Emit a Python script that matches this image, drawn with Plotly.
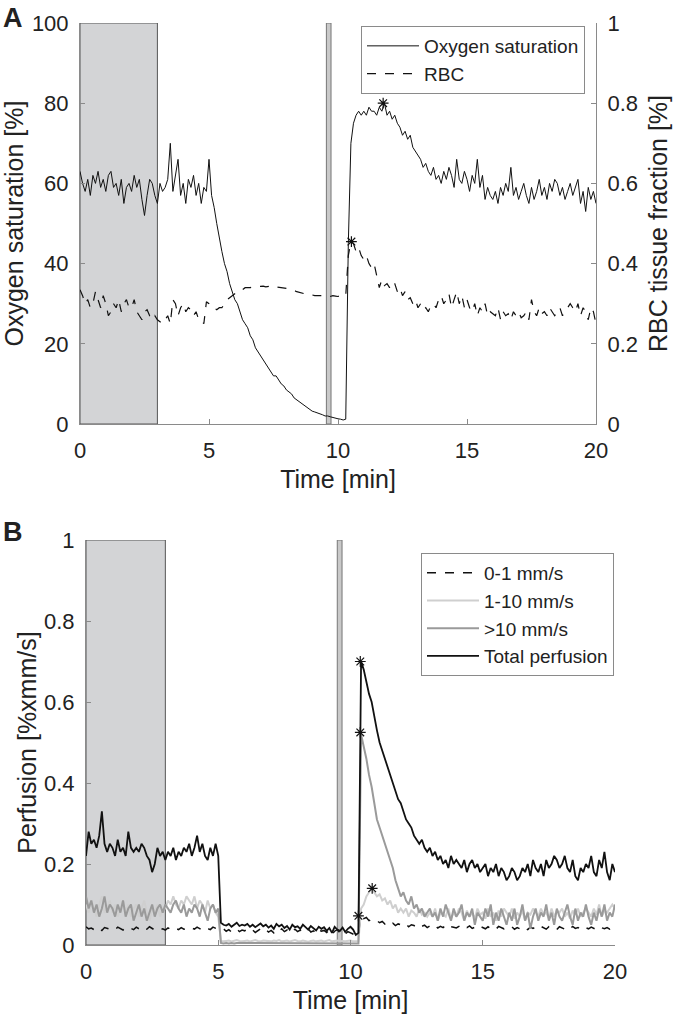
import numpy as np
import plotly.graph_objects as go

# ---------------- data ----------------
time_a = np.round(np.arange(0, 20.001, 0.1), 1)
time_b = np.round(np.arange(0, 20.001, 0.1), 1)

oxygen_rows = [
    [63, 60, 58, 61, 57, 62, 60, 63, 59, 61],
    [58, 62, 63, 59, 60, 57, 61, 55, 59, 60],
    [58, 62, 59, 61, 56, 52, 57, 61, 60, 57],
    [55, 60, 58, 59, 61, 70, 58, 62, 66, 57],
    [60, 55, 61, 59, 62, 57, 60, 55, 59, 58],
    [66, 57, 54, 50, 46, 43, 40, 38, 35, 33],
    [31, 30, 28, 26, 25, 24, 22, 21, 19, 18],
    [17, 16, 15, 14, 13, 12, 12, 11, 10, 9.5],
    [8.5, 8, 7.5, 6.5, 6, 5.5, 5, 4.5, 4, 3.5],
    [3.2, 3, 2.8, 2.5, 2.3, 2, 2, 1.8, 1.6, 1.5],
    [1.3, 1.2, 1.0, 1.2, 45, 70, 75, 77, 78, 77],
    [78, 77, 79, 78, 78, 77, 79, 78, 80, 77],
    [78, 76, 77, 75, 74, 72, 73, 71, 72, 69],
    [68, 67, 66, 64, 65, 63, 62, 64, 61, 62],
    [60, 63, 61, 64, 62, 59, 66, 61, 60, 63],
    [61, 58, 62, 60, 66, 59, 62, 56, 59, 57],
    [56, 58, 55, 59, 57, 60, 58, 64, 57, 59],
    [56, 58, 60, 57, 55, 59, 56, 58, 61, 57],
    [59, 56, 60, 58, 61, 60, 57, 59, 56, 58],
    [60, 57, 59, 61, 55, 58, 53, 59, 56, 58],
    [55],
]
rbc_rows = [
    [.335, .32, .30, .31, .29, .30, .33, .31, .29, .32],
    [.30, .27, .28, .30, .29, .31, .28, .30, .31, .29],
    [.29, .31, .28, .27, .26, .28, .285, .27, .26, .27],
    [.26, .255, .25, .26, .27, .25, .31, .30, .27, .29],
    [.30, .28, .29, .285, .27, .28, .26, .26, .25, .305],
    [.30, .29, .29, .285, .29, .29, .30, .31, .315, .32],
    [.325, .33, .335, .335, .34, .34, .34, .342, .343, .343],
    [.343, .344, .342, .343, .344, .345, .342, .341, .34, .34],
    [.338, .336, .335, .333, .33, .328, .326, .324, .323, .322],
    [.322, .32, .32, .321, .32, .319, .32, .318, .32, .319],
    [.318, .32, .318, .32, .42, .455, .45, .43, .44, .42],
    [.41, .42, .40, .39, .40, .37, .34, .36, .345, .35],
    [.34, .355, .35, .33, .34, .32, .33, .31, .315, .30],
    [.31, .29, .30, .285, .29, .28, .295, .30, .29, .31],
    [.32, .30, .31, .325, .29, .31, .33, .30, .32, .29],
    [.31, .29, .28, .30, .27, .29, .28, .30, .27, .28],
    [.275, .27, .29, .26, .28, .27, .275, .26, .28, .27],
    [.28, .265, .27, .28, .26, .31, .28, .27, .29, .275],
    [.28, .27, .29, .28, .27, .28, .29, .27, .28, .29],
    [.30, .29, .28, .30, .27, .29, .28, .26, .29, .28],
    [.25],
]
total_rows = [
    [.22, .28, .25, .26, .24, .27, .33, .25, .23, .25],
    [.24, .22, .26, .23, .24, .22, .28, .24, .23, .24],
    [.23, .25, .24, .22, .21, .18, .20, .24, .22, .23],
    [.21, .23, .22, .24, .21, .23, .22, .24, .23, .25],
    [.22, .24, .27, .23, .25, .22, .21, .24, .22, .25],
    [.22, .055, .05, .048, .052, .045, .05, .055, .047, .05],
    [.048, .052, .045, .05, .044, .049, .053, .046, .05, .043],
    [.048, .04, .052, .046, .05, .042, .047, .038, .05, .044],
    [.046, .04, .05, .044, .038, .047, .042, .036, .045, .04],
    [.044, .035, .042, .03, .045, .038, .035, .043, .032, .04],
    [.045, .038, .025, .03, .70, .68, .65, .62, .60, .56],
    [.53, .50, .48, .46, .44, .42, .40, .38, .36, .35],
    [.33, .31, .30, .29, .27, .26, .25, .26, .24, .23],
    [.24, .22, .23, .21, .22, .20, .21, .19, .22, .20],
    [.21, .20, .19, .21, .18, .20, .21, .19, .20, .18],
    [.19, .20, .17, .19, .18, .20, .17, .19, .18, .16],
    [.17, .19, .18, .16, .17, .19, .18, .20, .17, .21],
    [.19, .18, .20, .17, .21, .19, .20, .22, .21, .19],
    [.20, .22, .19, .18, .21, .17, .16, .19, .18, .20],
    [.19, .22, .18, .17, .21, .19, .23, .18, .16, .20],
    [.18],
]
fast_rows = [  # >10 mm/s
    [.12, .09, .11, .08, .10, .07, .09, .12, .08, .10],
    [.09, .07, .10, .08, .11, .07, .09, .10, .06, .08],
    [.10, .07, .09, .06, .08, .10, .07, .09, .10, .08],
    [.10, .09, .08, .10, .11, .09, .08, .10, .07, .09],
    [.08, .10, .09, .07, .10, .08, .06, .09, .10, .08],
    [.09, .005, .004, .005, .004, .005, .004, .005, .005, .004],
    [.005, .004, .005, .004, .005, .005, .004, .005, .004, .005],
    [.004, .005, .005, .004, .005, .004, .005, .004, .005, .005],
    [.004, .005, .004, .005, .005, .004, .005, .004, .005, .004],
    [.005, .004, .005, .004, .005, .005, .004, .005, .004, .005],
    [.004, .005, .005, .004, .52, .49, .46, .42, .39, .35],
    [.31, .29, .27, .25, .23, .21, .19, .16, .14, .12],
    [.13, .11, .10, .12, .09, .10, .08, .09, .07, .08],
    [.09, .07, .08, .06, .09, .07, .10, .08, .06, .09],
    [.07, .08, .10, .06, .08, .07, .09, .05, .08, .07],
    [.06, .09, .07, .10, .05, .08, .06, .09, .07, .05],
    [.08, .06, .09, .05, .07, .10, .06, .08, .04, .07],
    [.09, .06, .08, .07, .10, .06, .08, .05, .09, .07],
    [.06, .08, .10, .07, .05, .09, .06, .08, .07, .10],
    [.07, .05, .08, .06, .09, .07, .10, .06, .08, .07],
    [.10],
]
mid_rows = [  # 1-10 mm/s
    [.10, .08, .11, .09, .07, .10, .12, .08, .09, .11],
    [.08, .10, .07, .09, .11, .08, .10, .07, .09, .10],
    [.07, .09, .11, .08, .06, .09, .08, .10, .07, .09],
    [.09, .11, .10, .12, .10, .09, .11, .10, .12, .11],
    [.10, .12, .09, .11, .10, .08, .11, .09, .10, .08],
    [.07, .01, .009, .01, .011, .009, .01, .012, .01, .009],
    [.01, .011, .009, .01, .012, .01, .009, .011, .01, .01],
    [.009, .011, .01, .012, .009, .01, .011, .009, .01, .012],
    [.01, .009, .011, .01, .008, .01, .011, .009, .01, .011],
    [.009, .01, .012, .009, .01, .011, .009, .01, .009, .01],
    [.011, .009, .01, .01, .09, .10, .12, .13, .14, .13],
    [.12, .125, .11, .115, .10, .11, .09, .10, .08, .09],
    [.08, .09, .07, .085, .08, .07, .09, .075, .08, .07],
    [.08, .07, .09, .06, .08, .075, .07, .09, .065, .08],
    [.07, .09, .08, .06, .085, .07, .08, .065, .09, .075],
    [.08, .065, .09, .07, .08, .06, .085, .07, .09, .08],
    [.07, .09, .065, .08, .07, .085, .06, .08, .075, .09],
    [.08, .07, .09, .075, .08, .065, .09, .07, .085, .08],
    [.09, .07, .08, .065, .085, .075, .09, .07, .08, .09],
    [.08, .07, .09, .075, .10, .07, .085, .08, .09, .10],
    [.09],
]
slow_rows = [  # 0-1 mm/s
    [.045, .04, .042, .038, .044, .04, .036, .043, .041, .039],
    [.042, .038, .044, .04, .037, .043, .039, .041, .038, .044],
    [.04, .036, .042, .039, .045, .04, .037, .041, .038, .04],
    [.037, .042, .039, .044, .04, .038, .043, .039, .041, .038],
    [.042, .039, .044, .04, .037, .043, .04, .038, .044, .041],
    [.039, .036, .04, .034, .038, .032, .036, .04, .033, .037],
    [.035, .039, .033, .037, .031, .036, .04, .034, .038, .032],
    [.036, .03, .038, .034, .04, .033, .037, .029, .035, .039],
    [.033, .037, .03, .036, .04, .032, .035, .028, .038, .034],
    [.036, .031, .037, .026, .034, .038, .03, .035, .027, .033],
    [.03, .026, .024, .028, .072, .065, .068, .06, .063, .058],
    [.06, .055, .058, .052, .056, .05, .054, .048, .052, .05],
    [.047, .052, .045, .05, .048, .044, .05, .046, .049, .043],
    [.047, .044, .049, .042, .046, .043, .048, .041, .045, .044],
    [.042, .046, .04, .045, .043, .047, .041, .044, .04, .046],
    [.043, .04, .045, .041, .044, .039, .046, .042, .04, .044],
    [.041, .045, .039, .043, .04, .046, .042, .038, .044, .041],
    [.044, .04, .046, .042, .039, .045, .041, .043, .038, .045],
    [.042, .039, .044, .04, .046, .041, .043, .039, .045, .042],
    [.04, .044, .041, .038, .045, .042, .04, .043, .039, .044],
    [.036],
]

# peak markers (asterisks)
o2_peak = (11.75, 80)
rbc_peak = (10.52, 0.455)
total_peak = (10.37, 0.70)
fast_peak = (10.37, 0.525)
mid_peak = (10.82, 0.14)
slow_peak = (10.3, 0.072)

# shaded periods [min]
shade_span = (0, 3)
bar_span_a = (9.55, 9.73)
bar_span_b = (9.5, 9.68)

x_ticks = [0, 5, 10, 15, 20]


def flat(rows):
    return [v for r in rows for v in r]


oxygen = flat(oxygen_rows)
rbc = flat(rbc_rows)
total = flat(total_rows)
fast = flat(fast_rows)
mid = flat(mid_rows)
slow = flat(slow_rows)

# ---------------- figure ----------------
W, H = 680, 1019
FONT = "Liberation Sans, Arial, Helvetica, sans-serif"
AX = "#8a8a8a"
TXT = "#222222"


def px_x(p):
    return p / W


def px_y(p):
    return 1 - p / H


fig = go.Figure()

star = dict(symbol="asterisk-open", size=9, color="#111111", line=dict(width=1.2, color="#111111"))

# Panel A
fig.add_trace(go.Scatter(x=time_a, y=oxygen, mode="lines", name="Oxygen saturation",
                         line=dict(color="#111111", width=1), xaxis="x", yaxis="y", legend="legend"))
fig.add_trace(go.Scatter(x=time_a, y=rbc, mode="lines", name="RBC",
                         line=dict(color="#111111", width=1.2, dash="dash"), xaxis="x", yaxis="y2",
                         legend="legend"))
fig.add_trace(go.Scatter(x=[o2_peak[0]], y=[o2_peak[1]], mode="markers", showlegend=False,
                         marker=star, xaxis="x", yaxis="y"))
fig.add_trace(go.Scatter(x=[rbc_peak[0]], y=[rbc_peak[1]], mode="markers", showlegend=False,
                         marker=star, xaxis="x", yaxis="y2"))

# Panel B
fig.add_trace(go.Scatter(x=time_b, y=slow, mode="lines", name="0-1 mm/s",
                         line=dict(color="#111111", width=1.5, dash="dash"), xaxis="x2", yaxis="y3",
                         legend="legend2"))
fig.add_trace(go.Scatter(x=time_b, y=mid, mode="lines", name="1-10 mm/s",
                         line=dict(color="#cfcfcf", width=2), xaxis="x2", yaxis="y3", legend="legend2"))
fig.add_trace(go.Scatter(x=time_b, y=fast, mode="lines", name=">10 mm/s",
                         line=dict(color="#9a9a9a", width=2), xaxis="x2", yaxis="y3", legend="legend2"))
fig.add_trace(go.Scatter(x=time_b, y=total, mode="lines", name="Total perfusion",
                         line=dict(color="#111111", width=1.8), xaxis="x2", yaxis="y3", legend="legend2"))
for pk in (total_peak, fast_peak, mid_peak, slow_peak):
    fig.add_trace(go.Scatter(x=[pk[0]], y=[pk[1]], mode="markers", showlegend=False,
                             marker=star, xaxis="x2", yaxis="y3"))

# shaded rectangles
fig.add_shape(type="rect", xref="x", yref="y", x0=shade_span[0], x1=shade_span[1], y0=0, y1=100,
              fillcolor="#d3d4d6", line=dict(color="#555555", width=1), layer="below")
fig.add_shape(type="rect", xref="x", yref="y", x0=bar_span_a[0], x1=bar_span_a[1], y0=0, y1=100,
              fillcolor="#c9c9c9", line=dict(color="#777777", width=1), layer="below")
fig.add_shape(type="rect", xref="x2", yref="y3", x0=shade_span[0], x1=shade_span[1], y0=0, y1=1,
              fillcolor="#d3d4d6", line=dict(color="#555555", width=1), layer="below")
fig.add_shape(type="rect", xref="x2", yref="y3", x0=bar_span_b[0], x1=bar_span_b[1], y0=0, y1=1,
              fillcolor="#c9c9c9", line=dict(color="#777777", width=1), layer="below")

axis_common = dict(showgrid=False, zeroline=False, showline=True, linecolor=AX, linewidth=1,
                   ticks="inside", ticklen=5, tickcolor=AX, automargin=False,
                   tickfont=dict(family=FONT, size=22, color=TXT))
title_font = dict(family=FONT, size=25, color=TXT)
legend_common = dict(xanchor="left", yanchor="top", bgcolor="white", bordercolor=AX, borderwidth=1,
                     font=dict(family=FONT, size=19, color=TXT), tracegroupgap=0, itemwidth=52)

fig.update_layout(
    width=W, height=H,
    margin=dict(l=0, r=0, t=0, b=0, autoexpand=False),
    paper_bgcolor="white", plot_bgcolor="white",
    font=dict(family=FONT, color=TXT),
    xaxis=dict(domain=[px_x(80), px_x(596)], anchor="y", range=[0, 20], tickvals=x_ticks,
               title=dict(text="Time [min]", font=title_font, standoff=8),
               ticklabelstandoff=7, **axis_common),
    yaxis=dict(domain=[px_y(424), px_y(23)], anchor="x", range=[0, 100], dtick=20,
               title=dict(text="Oxygen saturation [%]", font=title_font, standoff=4),
               ticklabelstandoff=6, **axis_common),
    yaxis2=dict(domain=[px_y(424), px_y(23)], anchor="x", overlaying="y", side="right",
                range=[0, 1], dtick=0.2,
                title=dict(text="RBC tissue fraction [%]", font=title_font, standoff=12),
                ticklabelstandoff=6, **axis_common),
    xaxis2=dict(domain=[px_x(86), px_x(615)], anchor="y3", range=[0, 20], tickvals=x_ticks,
                title=dict(text="Time [min]", font=title_font, standoff=8),
                ticklabelstandoff=7, **axis_common),
    yaxis3=dict(domain=[px_y(945), px_y(540)], anchor="x2", range=[0, 1], dtick=0.2,
                title=dict(text="Perfusion [%xmm/s]", font=title_font, standoff=0),
                ticklabelstandoff=6, **axis_common),
    legend=dict(x=px_x(361), y=px_y(26), **legend_common),
    legend2=dict(x=px_x(421), y=px_y(553), **legend_common),
    annotations=[
        dict(text="<b>A</b>", x=px_x(13), y=px_y(18), xref="paper", yref="paper",
             xanchor="center", yanchor="middle", showarrow=False,
             font=dict(family=FONT, size=27, color=TXT)),
        dict(text="<b>B</b>", x=px_x(13), y=px_y(532), xref="paper", yref="paper",
             xanchor="center", yanchor="middle", showarrow=False,
             font=dict(family=FONT, size=27, color=TXT)),
    ],
)

# remove the default 8px page margin so the figure fills the window exactly
fig.write_html("out.html",
               config={"displayModeBar": False},
               post_script="document.body.style.margin='0px';"
                           "document.documentElement.style.overflow='hidden';")
